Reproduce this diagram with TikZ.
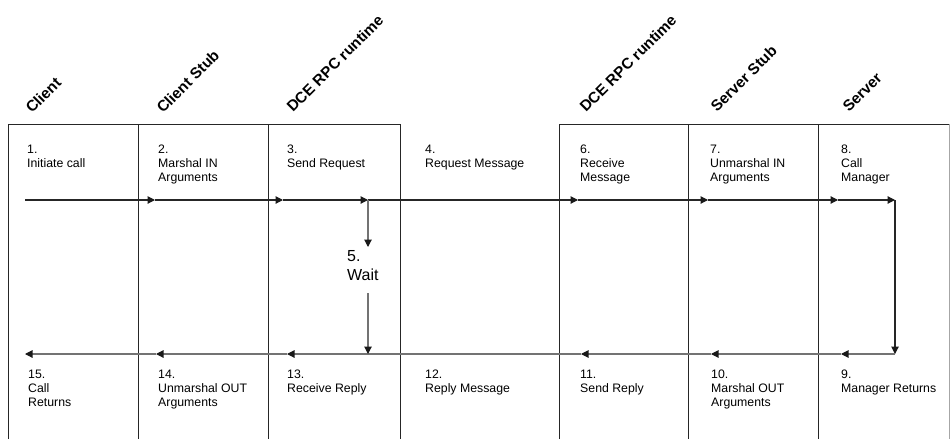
\documentclass[tikz,border=0pt]{standalone}
\usepackage{fontspec}
\setmainfont{Liberation Sans}
\usetikzlibrary{arrows.meta}
\begin{document}
\begin{tikzpicture}[x=1pt,y=-1pt,
  rule/.style={draw=black!85, line width=0.9pt},
  edge/.style={draw=black!35, line width=0.9pt},
  fwd/.style={draw=black!85, line width=1.1pt,
    -{Triangle[length=7.5pt,width=7.5pt,color=black!90]}},
  back/.style={draw=black!55, line width=1.1pt,
    -{Triangle[length=7.5pt,width=7.5pt,color=black!90]}},
  hdr/.style={rotate=45, anchor=base west, inner sep=0pt,
    font=\fontsize{15.3}{17}\selectfont\bfseries},
  stepnote/.style={anchor=north west, inner sep=0pt, align=left,
    font=\fontsize{12.3}{13.8}\selectfont},
  waitnote/.style={anchor=north west, inner sep=0pt, align=left,
    font=\fontsize{16}{19.5}\selectfont}]
\useasboundingbox (0,0) rectangle (950,439);

% lane headers
\node[hdr] (hClient) at (32,114) {Client};
\node[hdr] (hCStub) at (163,114) {Client Stub};
\node[hdr] (hCRun) at (293,113) {DCE RPC runtime};
\node[hdr] (hSRun) at (586,113) {DCE RPC runtime};
\node[hdr] (hSStub) at (717,113) {Server Stub};
\node[hdr] (hServer) at (849,113) {Server};

% lane frame: client side and server side
\draw[rule] (8,439) -- (8,124) -- (400,124) -- (400,439);
\draw[rule] (138,124) -- (138,439);
\draw[rule] (268,124) -- (268,439);
\draw[rule] (559,439) -- (559,124) -- (949,124);
\draw[rule] (688,124) -- (688,439);
\draw[rule] (818,124) -- (818,439);
\draw[edge] (949,124) -- (949,439);

% outbound call steps
\node[stepnote] (s1) at (27,145) {1.\\Initiate call};
\node[stepnote] (s2) at (158,145) {2.\\Marshal IN\\Arguments};
\node[stepnote] (s3) at (287,145) {3.\\Send Request};
\node[stepnote] (s4) at (425,145) {4.\\Request Message};
\node[stepnote] (s6) at (580,145) {6.\\Receive\\Message};
\node[stepnote] (s7) at (710,145) {7.\\Unmarshal IN\\Arguments};
\node[stepnote] (s8) at (841,145) {8.\\Call\\Manager};

% return steps
\node[stepnote] (s15) at (28,370) {15.\\Call\\Returns};
\node[stepnote] (s14) at (158,370) {14.\\Unmarshal OUT\\Arguments};
\node[stepnote] (s13) at (287,370) {13.\\Receive Reply};
\node[stepnote] (s12) at (425,370) {12.\\Reply Message};
\node[stepnote] (s11) at (580,370) {11.\\Send Reply};
\node[stepnote] (s10) at (711,370) {10.\\Marshal OUT\\Arguments};
\node[stepnote] (s9) at (841,370) {9.\\Manager Returns};

\node[waitnote] (wait) at (347,250) {5.\\Wait};

% request path
\coordinate (t0) at (25,200);
\coordinate (t1) at (155,200);
\coordinate (t2) at (283,200);
\coordinate (t3) at (368,200);
\coordinate (t4) at (578,200);
\coordinate (t5) at (708,200);
\coordinate (t6) at (838,200);
\coordinate (t7) at (895,200);
\draw[fwd] (t0) -- (t1);
\draw[fwd] (t1) -- (t2);
\draw[fwd] (t2) -- (t3);
\draw[fwd] (t3) -- (t4);
\draw[fwd] (t4) -- (t5);
\draw[fwd] (t5) -- (t6);
\draw[fwd] (t6) -- (t7);

% reply path
\coordinate (b0) at (895,354);
\coordinate (b1) at (841,354);
\coordinate (b2) at (711,354);
\coordinate (b3) at (581,354);
\coordinate (b4) at (287,354);
\coordinate (b5) at (156,354);
\coordinate (b6) at (25,354);
\draw[fwd] (t7) -- (b0);
\draw[back] (b0) -- (b1);
\draw[back] (b1) -- (b2);
\draw[back] (b2) -- (b3);
\draw[back] (b3) -- (b4);
\draw[back] (b4) -- (b5);
\draw[back] (b5) -- (b6);

% waiting for the reply
\coordinate (w1) at (368,247);
\coordinate (w2) at (368,293);
\coordinate (w3) at (368,354);
\draw[back] (t3) -- (w1);
\draw[back] (w2) -- (w3);
\end{tikzpicture}
\end{document}
